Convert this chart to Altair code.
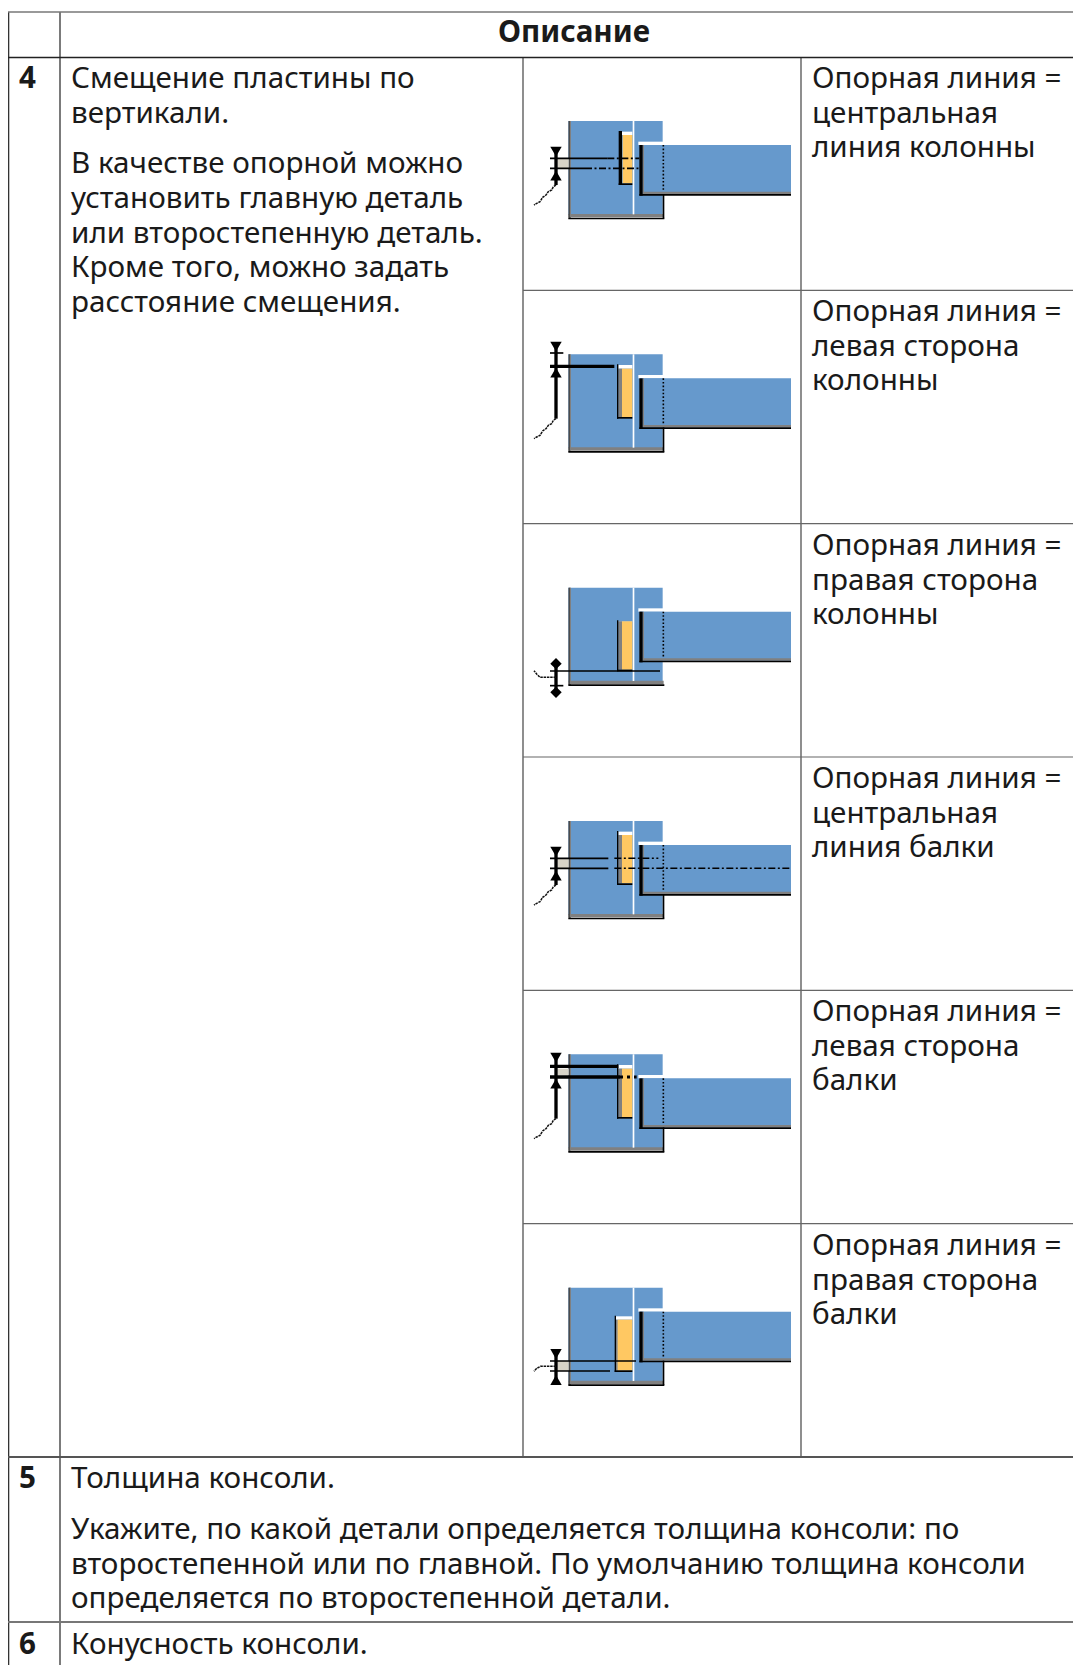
import altair as alt
import pandas as pd

W, H = 1065, 1657
FONT = "Noto Sans"
INK = "#1a1a1a"
BLUE = "#6699cc"
ORANGE = "#ffc862"
GRAY = "#808080"
TAN = "#d8d4c8"
BLACK = "#000000"
WHITE = "#ffffff"

grid_v = [
    (8, 12, 1665, 1.3, "#333333"), (60, 12, 1665, 1.3, "#333333"),
    (523, 58, 1457, 1.2, "#444444"), (801, 58, 1457, 1.2, "#444444"),
]
grid_h = [
    (12, 8, 1073, 1.6, "#777777"), (57.5, 8, 1073, 1.4, "#222222"),
    (290.3, 523, 1073, 1.2, "#666666"), (523.6, 523, 1073, 1.2, "#666666"),
    (757, 523, 1073, 1.2, "#666666"), (990.3, 523, 1073, 1.2, "#666666"),
    (1223.6, 523, 1073, 1.2, "#666666"), (1457, 8, 1073, 1.8, "#555555"),
    (1622, 8, 1073, 1.8, "#777777"),
]

text_x = [71, 812, 71]
left_lines = ["Смещение пластины по", "вертикали.", "В качестве опорной можно", "установить главную деталь",
              "или второстепенную деталь.", "Кроме того, можно задать", "расстояние смещения."]
left_base = [88, 123, 173, 208, 243, 277, 312]
right_lines = [
    ["Опорная линия =", "центральная", "линия колонны"],
    ["Опорная линия =", "левая сторона", "колонны"],
    ["Опорная линия =", "правая сторона", "колонны"],
    ["Опорная линия =", "центральная", "линия балки"],
    ["Опорная линия =", "левая сторона", "балки"],
    ["Опорная линия =", "правая сторона", "балки"],
]
right_base = [88, 123, 157]
lower_lines = ["Толщина консоли.", "Укажите, по какой детали определяется толщина консоли: по",
               "второстепенной или по главной. По умолчанию толщина консоли",
               "определяется по второстепенной детали.", "Конусность консоли."]
lower_base = [1488, 1539, 1574, 1608, 1654]
numbers = [("4", 19, 88), ("5", 19, 1488), ("6", 19, 1654)]
header = ("Описание", 574, 42)

PANEL_DY = 233.33
plate_black = [(296, 306), (291, 295), (291, 295), (291, 295), (291, 295), (284, 288)]
plate_top = [123, 123, 191, 123, 123, 177]
plate_bottom = [285, 286, 344, 285, 286, 346]
orange_left = [308, 306, 306, 306, 306, 292]
orange_top = [135, 136, 194, 135, 136, 189]
orange_bottom = [280, 281, 339, 280, 281, 342]
stem = [(175, 285), (61, 286), (314, 414), (175, 285), (96, 286), (284, 379)]
solid_lines = [
    [(205, 90, 262, 5), (235, 90, 195, 5)],
    [(129, 90, 283, 10), (89, 90, 130, 5)],
    [(343, 90, 420, 5), (387, 90, 130, 5)],
    [(205, 90, 265, 5), (235, 90, 265, 5)],
    [(129, 90, 295, 10), (161, 90, 300, 10)],
    [(313, 90, 348, 5), (343, 90, 270, 5)],
]
tan_band = [(205, 235), None, None, (205, 235), (136, 156), (313, 343)]
dash_lines = [
    [(205, 262, 358), (235, 195, 358)],
    [],
    [],
    [(205, 283, 415), (235, 283, 813)],
    [],
    [],
]
thick_dots = [None, None, None, None, (161, 300, 350), None]
heads = [
    [(185, "triangle-down"), (257, "triangle-up")],
    [(70, "triangle-down"), (148, "triangle-up")],
    [(321, "diamond"), (407, "diamond")],
    [(185, "triangle-down"), (257, "triangle-up")],
    [(103, "triangle-down"), (181, "triangle-up")],
    [(292, "triangle-down"), (370, "triangle-up")],
]
wave_long_x = [108, 100, 95, 85, 78, 68, 60, 50, 42]
wave_long_y = [285, 290, 300, 305, 315, 322, 335, 340, 345]
waves = [
    (wave_long_x, wave_long_y),
    (wave_long_x, [v + 1 for v in wave_long_y]),
    ([108, 60, 50, 42], [362, 362, 352, 342]),
    (wave_long_x, wave_long_y),
    (wave_long_x, [v + 1 for v in wave_long_y]),
    ([108, 62, 50, 42], [329, 329, 335, 344]),
]
has_right_drop = [True, True, False, True, True, True]


def px(v):
    return 520 + v / 3


def py(k, v):
    return 90 + PANEL_DY * k + v / 3


rects = []


def box(x0, x1, y0, y1, c):
    rects.append(dict(x=x0, x2=x1, y=y0, y2=y1, c=c))


for x, a, b, w, c in grid_v:
    box(x - w / 2 if x > 8 else 8, x + w / 2 if x > 8 else 8 + w, a, b, c)
for y, a, b, w, c in grid_h:
    box(a, b, y - w / 2, y + w / 2, c)

for k in range(6):
    def lb(x0, x1, y0, y1, c):
        box(px(x0), px(x1), py(k, y0), py(k, y1), c)
    lb(145, 428, 93, 375, BLUE)
    lb(145, 431, 372, 382, GRAY)
    lb(146, 153, 93, 385, GRAY)
    lb(146, 149, 93, 385, "#333333")
    lb(145, 433, 383, 388, BLACK)
    lb(338, 343, 93, 373, WHITE)
    lb(355, 430, 155, 165, WHITE)
    lb(360, 813, 165, 312, BLUE)
    lb(368, 813, 305, 312, GRAY)
    lb(368, 372, 165, 312, GRAY)
    if has_right_drop[k]:
        lb(428, 433, 312, 385, BLACK)
    if tan_band[k]:
        lb(112, 146, tan_band[k][0], tan_band[k][1], TAN)
    bl, br = plate_black[k]
    lb(br, 337, plate_top[k] + 2, orange_top[k], WHITE)
    lb(orange_left[k], 337, orange_top[k], orange_bottom[k], ORANGE)
    if orange_left[k] > br + 1 and k != 0:
        lb(br, orange_left[k], orange_top[k], orange_bottom[k], GRAY)
    lb(bl, br, plate_top[k], plate_bottom[k], BLACK)
    lb(bl, 337, plate_bottom[k] - 5, plate_bottom[k], BLACK)
    lb(358, 368, 165, 317, BLACK)
    lb(358, 813, 312, 317, BLACK)
    lb(103, 113, stem[k][0], stem[k][1], BLACK)
    for y, a, b, t in solid_lines[k]:
        lb(a, b, y - t / 2, y + t / 2, BLACK)

dash_rows, dot_rows, thick_rows, head_rows, wave_rows = [], [], [], [], []
for k in range(6):
    dot_rows.append(dict(x=px(430), y=py(k, 165), y2=py(k, 300)))
    for y, a, b in dash_lines[k]:
        dash_rows.append(dict(x=px(a), x2=px(b), y=py(k, y)))
    if thick_dots[k]:
        y, a, b = thick_dots[k]
        thick_rows.append(dict(x=px(a), x2=px(b), y=py(k, y)))
    for y, s in heads[k]:
        head_rows.append(dict(x=px(108), y=py(k, y), s=s))
    xs, ys = waves[k]
    for i, (a, b) in enumerate(zip(xs, ys)):
        wave_rows.append(dict(x=px(a), y=py(k, b), k=k, i=i))

text_rows = []
for t, y in zip(left_lines, left_base):
    text_rows.append(dict(t=t, x=text_x[0], y=y))
for k, lines in enumerate(right_lines):
    for t, y in zip(lines, right_base):
        text_rows.append(dict(t=t, x=text_x[1], y=y + PANEL_DY * k))
for t, y in zip(lower_lines, lower_base):
    text_rows.append(dict(t=t, x=text_x[2], y=y))

xs = alt.Scale(domain=[8, 8 + W], range=[0, W], nice=False, zero=False, padding=0)
ys = alt.Scale(domain=[8, 8 + H], range=[0, H], nice=False, zero=False, padding=0)
X = alt.X("x:Q", scale=xs, axis=None)
Y = alt.Y("y:Q", scale=ys, axis=None)

rect = alt.Chart(pd.DataFrame(rects)).mark_rect(strokeWidth=0).encode(
    x=X, x2="x2:Q", y=Y, y2="y2:Q", color=alt.Color("c:N", scale=None))
dash = alt.Chart(pd.DataFrame(dash_rows)).mark_rule(
    color=BLACK, strokeWidth=1.6, strokeDash=[7, 2.5, 2, 2.5]).encode(x=X, x2="x2:Q", y=Y)
dots = alt.Chart(pd.DataFrame(dot_rows)).mark_rule(
    color=BLACK, strokeWidth=1.6, strokeDash=[1.6, 2]).encode(x=X, y=Y, y2="y2:Q")
thick = alt.Chart(pd.DataFrame(thick_rows)).mark_rule(
    color=BLACK, strokeWidth=3, strokeDash=[3, 4]).encode(x=X, x2="x2:Q", y=Y)
head = alt.Chart(pd.DataFrame(head_rows)).mark_point(
    filled=True, color=BLACK, opacity=1, size=130).encode(
    x=X, y=Y, shape=alt.Shape("s:N", scale=None))
wave = alt.Chart(pd.DataFrame(wave_rows)).mark_line(
    color="#111111", strokeWidth=1.5, strokeDash=[2.5, 0.8]).encode(
    x=X, y=Y, detail="k:N", order="i:Q")
body = alt.Chart(pd.DataFrame(text_rows)).mark_text(
    font=FONT, fontSize=29.6, color=INK, align="left", baseline="alphabetic").encode(
    x=X, y=Y, text="t:N")
nums = alt.Chart(pd.DataFrame([dict(t=t, x=x, y=y) for t, x, y in numbers])).mark_text(
    font=FONT, fontSize=29.6, fontWeight="bold", color=INK, align="left", baseline="alphabetic").encode(
    x=X, y=Y, text="t:N")
head_text = alt.Chart(pd.DataFrame([dict(t=header[0], x=header[1], y=header[2])])).mark_text(
    font=FONT, fontSize=29.6, fontWeight="bold", color=INK, align="center", baseline="alphabetic").encode(
    x=X, y=Y, text="t:N")

chart = alt.layer(rect, dash, dots, thick, head, wave, body, nums, head_text).properties(
    width=W, height=H, padding=0, background="white",
    autosize=alt.AutoSizeParams(type="none", contains="padding"),
).configure_view(stroke=None)

chart.save("out.html", embed_options={"renderer": "svg", "actions": False})
